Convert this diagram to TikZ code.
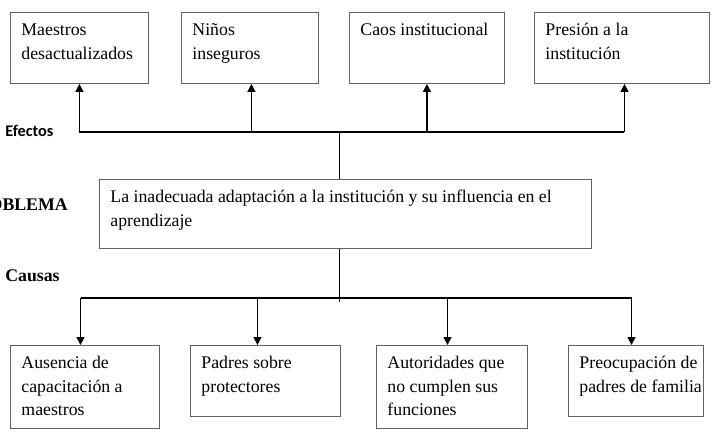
\documentclass[tikz,border=0pt]{standalone}
\usepackage{fontspec}
\setmainfont{Liberation Serif}
\newfontfamily\carlito{Carlito}
\usetikzlibrary{arrows.meta}

\newlength\pxu
\setlength\pxu{0.675pt}
% text cell: box width, box height (px), text
\newcommand\cellbox[3]{\hspace*{11\pxu}\parbox[c][\dimexpr#2\pxu-13\pxu\relax][t]{\dimexpr#1\pxu-11\pxu\relax}{\raggedright\strut#3}}

\begin{document}
\begin{tikzpicture}[
  x=0.675pt, y=-0.675pt,
  >={Triangle[length=5.3pt,width=5.3pt]},
  box/.style={draw=black!62, line width=0.6pt, anchor=north west, inner xsep=0pt, inner ysep=4.4pt, font=\fontsize{12}{15.9}\selectfont},
  wire/.style={line width=0.9pt},
  stem/.style={line width=0.5pt},
  side/.style={anchor=base west, inner sep=0pt, font=\fontsize{12}{14}\selectfont\bfseries}
]
\useasboundingbox (0,0) rectangle (715,433);

% Effects
\node[box] (e1) at (10,12)  {\cellbox{138}{71}{Maestros\\desactualizados}};
\node[box] (e2) at (181,12) {\cellbox{137}{71}{Niños\\inseguros}};
\node[box] (e3) at (349,12) {\cellbox{155}{71}{Caos institucional}};
\node[box] (e4) at (534,12) {\cellbox{175}{71}{Presión a la\\institución}};

% Problem
\node[box] (core) at (99,179) {\cellbox{492}{69}{La inadecuada adaptación a la institución y su influencia en el\\aprendizaje}};

% Causes
\node[box] (c1) at (10,345)  {\cellbox{149}{83}{Ausencia de\\capacitación a\\maestros}};
\node[box] (c2) at (190,345) {\cellbox{150}{71}{Padres sobre\\protectores}};
\node[box] (c3) at (376,345) {\cellbox{151}{83}{Autoridades que\\no cumplen sus\\funciones}};
\node[box] (c4) at (568,345) {\cellbox{135}{71}{Preocupación de\\padres de familia}};

% Side labels
\node[side, font=\carlito\fontsize{11}{12}\selectfont\bfseries] (efectos) at (5,137) {Efectos};
\begin{scope}
  \clip (0,0) rectangle (715,433);
  \node[side, anchor=base east] (problema) at (68,211) {PROBLEMA};
\end{scope}
\node[side] (causas) at (5,281) {Causas};

% Upper tree
\coordinate (topbus) at (339,132);
\draw[stem] (core.north -| topbus) -- (topbus);
\draw[wire] (e1 |- topbus) -- ([xshift=1.7pt]e4.south |- topbus);
\foreach \n/\s in {e1/0pt, e2/1pt, e3/0pt, e4/1.7pt}
  \draw[wire,->] ([xshift=\s]\n.south |- topbus) -- ([xshift=\s]\n.south);

% Lower tree
\coordinate (lowbus) at (339,298);
\draw[stem] (core.south -| lowbus) -- ([yshift=-2.7pt]lowbus);
\draw[wire] ([xshift=-3pt]c1.north |- lowbus) -- ([xshift=-3pt]c4.north |- lowbus);
\foreach \n/\s in {c1/-3pt, c2/-5.4pt, c3/-3pt, c4/-3pt}
  \draw[wire,->] ([xshift=\s]\n.north |- lowbus) -- ([xshift=\s]\n.north);

\end{tikzpicture}
\end{document}
